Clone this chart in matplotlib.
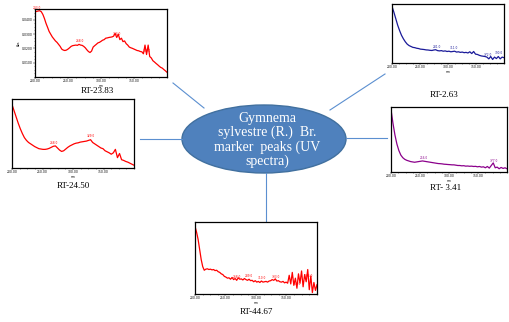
import numpy as np
import matplotlib.pyplot as plt
from matplotlib.patches import Ellipse
from matplotlib.ticker import MultipleLocator

# UV spectra (panel 1 in 1e-3 Abs, others as fraction of axis height)
rt2383 = [45.6, 45.8, 46.1, 46.3, 45.6, 43.7, 40.9, 37.5, 34.7, 31.8, 29.9, 28.0, 26.6,
          25.2, 24.2, 22.8, 21.4, 19.5, 18.8, 18.5, 18.8, 19.5, 20.4, 21.4, 21.9, 22.1,
          22.3, 22.1, 22.8, 22.3, 22.1, 21.4, 20.4, 19.0, 17.8, 17.1, 18.1, 20.9, 21.9,
          22.8, 23.8, 24.2, 24.9, 25.7, 26.1, 27.1, 27.3, 27.6, 27.8, 28.0, 28.5, 30.4,
          27.6, 29.9, 26.1, 27.1, 24.7, 25.2, 23.3, 22.3, 20.9, 20.4, 20.0, 19.5, 19.0,
          18.5, 18.3, 17.8, 17.6, 16.2, 22.3, 15.7, 22.3, 14.3, 13.3, 11.4, 10.5, 9.5,
          8.6, 7.6, 6.7, 6.2, 5.2, 4.3, 3.3]
rt263 = [0.96, 0.86, 0.75, 0.64, 0.55, 0.47, 0.41, 0.36, 0.32, 0.295, 0.28, 0.265, 0.26,
         0.25, 0.245, 0.235, 0.232, 0.228, 0.222, 0.22, 0.215, 0.212, 0.22, 0.225, 0.21,
         0.205, 0.21, 0.20, 0.205, 0.195, 0.20, 0.19, 0.195, 0.20, 0.185, 0.19, 0.18,
         0.185, 0.175, 0.18, 0.17, 0.19, 0.16, 0.195, 0.15, 0.145, 0.13, 0.12, 0.115,
         0.11, 0.10, 0.07, 0.11, 0.06, 0.10, 0.075, 0.11, 0.07, 0.10, 0.09]
rt2450 = [0.92, 0.83, 0.74, 0.65, 0.57, 0.50, 0.44, 0.40, 0.37, 0.35, 0.33, 0.31, 0.295,
          0.28, 0.275, 0.27, 0.27, 0.275, 0.285, 0.30, 0.315, 0.32, 0.29, 0.26, 0.24,
          0.25, 0.275, 0.30, 0.32, 0.335, 0.35, 0.36, 0.365, 0.375, 0.38, 0.385, 0.39,
          0.40, 0.41, 0.37, 0.35, 0.33, 0.31, 0.29, 0.28, 0.25, 0.235, 0.22, 0.20, 0.22,
          0.27, 0.15, 0.21, 0.12, 0.11, 0.095, 0.085, 0.07, 0.055, 0.04]
rt341 = [0.96, 0.75, 0.57, 0.43, 0.33, 0.26, 0.22, 0.195, 0.18, 0.17, 0.16, 0.155, 0.15,
         0.155, 0.16, 0.165, 0.17, 0.165, 0.16, 0.155, 0.15, 0.145, 0.14, 0.135, 0.13,
         0.128, 0.125, 0.12, 0.118, 0.115, 0.113, 0.11, 0.11, 0.105, 0.10, 0.10, 0.095,
         0.097, 0.09, 0.092, 0.088, 0.09, 0.085, 0.087, 0.08, 0.085, 0.075, 0.08, 0.065,
         0.085, 0.06, 0.10, 0.14, 0.065, 0.075, 0.05, 0.07, 0.055, 0.065, 0.05]
rt4467 = [0.94, 0.86, 0.76, 0.62, 0.48, 0.38, 0.33, 0.345, 0.35, 0.34, 0.345, 0.335, 0.34,
          0.325, 0.33, 0.31, 0.30, 0.28, 0.27, 0.245, 0.235, 0.22, 0.225, 0.205, 0.23,
          0.20, 0.215, 0.19, 0.225, 0.205, 0.21, 0.195, 0.215, 0.20, 0.19, 0.205, 0.185,
          0.19, 0.17, 0.185, 0.165, 0.175, 0.16, 0.18, 0.165, 0.17, 0.175, 0.165, 0.18,
          0.185, 0.20, 0.19, 0.21, 0.18, 0.185, 0.17, 0.165, 0.175, 0.155, 0.165, 0.15,
          0.26, 0.14, 0.30, 0.12, 0.22, 0.08, 0.28, 0.15, 0.32, 0.10, 0.27, 0.17, 0.34,
          0.06, 0.25, 0.02, 0.16, 0.05, 0.13]

peaks2383 = [203, 268, 324, 369]
peaks263 = [281, 311, 372, 390]
peaks2450 = [268, 329]
peaks341 = [256, 377]
peaks4467 = [268, 289, 310, 333, 367, 386]

x_ticks = [200, 250, 300, 350]

W, H = 510, 322
fig = plt.figure(figsize=(W / 100, H / 100), dpi=100)
bg = fig.add_axes([0, 0, 1, 1])
bg.set_xlim(0, W)
bg.set_ylim(H, 0)
bg.axis('off')

line_c = '#5b8fd0'
for (x0, y0, x1, y1) in [(173, 83, 204, 108), (385, 74, 330, 110), (140, 139, 182, 139),
                         (346, 138, 387, 138), (266, 173, 266, 221)]:
    bg.plot([x0, x1], [y0, y1], color=line_c, lw=0.8)

bg.add_patch(Ellipse((264, 139), 164, 68, facecolor='#4f81bd', edgecolor='#41709f', lw=1.0))
bg.text(267, 140, "Gymnema\nsylvestre (R.)  Br.\nmarker  peaks (UV\nspectra)", color='white',
        ha='center', va='center', fontsize=10, family='Liberation Serif', linespacing=1.1)


def panel(box, vals, color, peaks, label, label_xy, ylim=(0, 1), yaxis=False):
    x0, y0, x1, y1 = box
    ax = fig.add_axes([x0 / W, 1 - y1 / H, (x1 - x0) / W, (y1 - y0) / H])
    wl = np.linspace(200, 400, len(vals))
    ax.plot(wl, vals, color=color, lw=0.9)
    ax.set_xlim(200, 400)
    ax.set_ylim(*ylim)
    ax.set_xticks(x_ticks)
    ax.set_xticklabels([f"{t:.2f}" for t in x_ticks])
    ax.xaxis.set_minor_locator(MultipleLocator(12.5))
    ax.set_xlabel("nm", fontsize=2.2, labelpad=0.3)
    if yaxis:
        yt = [10, 20, 30, 40]
        ax.set_yticks(yt)
        ax.set_yticklabels([f"{v / 1000:.4f}" for v in yt])
        ax.yaxis.set_minor_locator(MultipleLocator(2.5))
        ax.set_ylabel("Abs", fontsize=2.2, labelpad=0.5)
    else:
        ax.set_yticks([])
    ax.tick_params(which='both', direction='out', length=1.2, width=0.3, labelsize=2.2, pad=0.5)
    ax.tick_params(which='minor', length=0.7)
    for s in ax.spines.values():
        s.set_linewidth(0.9)
        s.set_color('black')
    for p in peaks:
        yv = np.interp(p, wl, vals)
        ax.annotate(f"{p:.1f}", (p, yv), xytext=(0, 1.0), textcoords='offset points',
                    fontsize=2.1, color=color, ha='center', va='bottom')
    bg.text(label_xy[0], label_xy[1], label, fontsize=6.5, family='Liberation Serif',
            ha='center', va='center')


panel((35, 9, 167, 77), rt2383, '#ff0000', peaks2383, "RT-23.83", (97, 91), ylim=(0, 47.5), yaxis=True)
panel((392, 4, 504, 63), rt263, '#1a1a99', peaks263, "RT-2.63", (444, 95))
panel((12, 99, 134, 168), rt2450, '#ff0000', peaks2450, "RT-24.50", (73, 186))
panel((391, 107, 507, 172), rt341, '#8b008b', peaks341, "RT- 3.41", (446, 188))
panel((195, 222, 317, 294), rt4467, '#ff0000', peaks4467, "RT-44.67", (256, 312))

fig.savefig("out.png", dpi=100)
